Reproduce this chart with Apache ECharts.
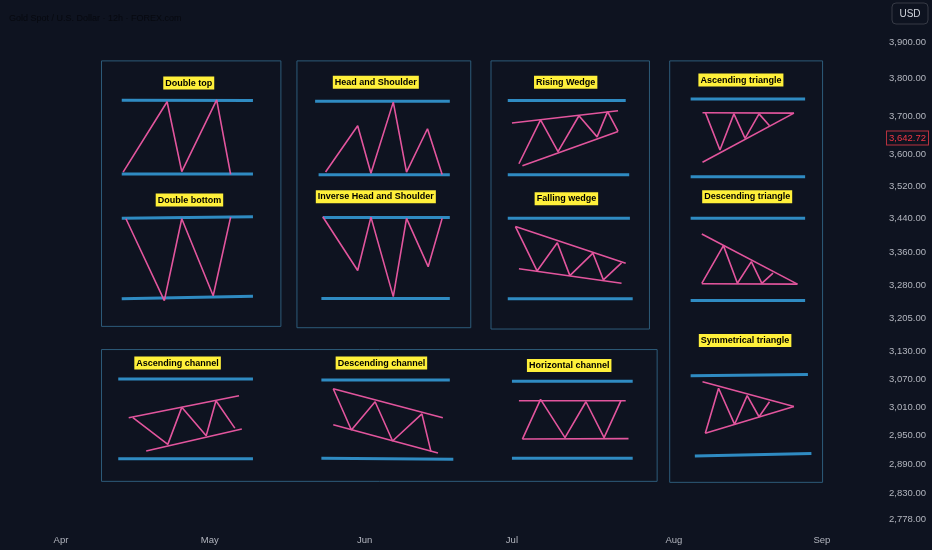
<!DOCTYPE html>
<html>
<head>
<meta charset="utf-8">
<title>Chart patterns</title>
<script src="https://cdn.jsdelivr.net/npm/echarts@6/dist/echarts.min.js"></script>
<style>
  html, body { margin: 0; padding: 0; background: #0e1320; }
  #chart { width: 932px; height: 550px; }
</style>
</head>
<body>
<div id="chart"></div>
<script>
// x = 12h bar position in trading days from 1 Apr, y = price (log scale)
const monthNames = ['Apr', 'May', 'Jun', 'Jul', 'Aug', 'Sep'];
const monthBars = [0, 21.3, 43.5, 64.6, 87.8, 109];
const priceTicks = [2778, 2830, 2890, 2950, 3010, 3070, 3130, 3205, 3280, 3360, 3440, 3520, 3600, 3700, 3800, 3900];
const lastPrice = 3642.72;

// rectangles: [fromBar, toBar, lowPrice, highPrice]
const frames = [
  [5.8, 31.5, 3187, 3848],
  [33.8, 58.7, 3184, 3848],
  [61.6, 84.3, 3181, 3848],
  [87.2, 109.1, 2853, 3848],
  [5.8, 85.4, 2855, 3135]
];

// blue horizontal levels: [bar1, price1, bar2, price2]
const levels = [
  [8.7, 3742, 27.5, 3741], [8.7, 3551, 27.5, 3551], [8.7, 3441, 27.5, 3445], [8.7, 3250, 27.5, 3256],
  [36.4, 3739, 55.7, 3739], [36.9, 3549, 55.7, 3549], [37.5, 3443, 55.7, 3443], [37.3, 3251, 55.7, 3251],
  [64.0, 3741, 80.9, 3741], [64.0, 3549, 81.4, 3549], [64.0, 3441, 81.5, 3441], [64.0, 3250, 81.9, 3250],
  [90.2, 3745, 106.6, 3745], [90.2, 3544, 106.6, 3544], [90.2, 3441, 106.6, 3441], [90.2, 3246, 106.6, 3246],
  [90.2, 3077, 107.0, 3080], [90.8, 2907, 107.5, 2912],
  [8.2, 3070, 27.5, 3070], [8.2, 2901, 27.5, 2901],
  [37.3, 3068, 55.7, 3068], [37.3, 2902, 56.2, 2900],
  [64.6, 3065, 81.9, 3065], [64.6, 2902, 81.9, 2902]
];

// pink pattern drawings, each one a list of polylines of [bar, price]
const doubleTop = [[[8.9, 3556], [15.2, 3738], [17.3, 3557], [22.3, 3743], [24.3, 3550]]];
const doubleBottom = [[[9.3, 3440], [14.8, 3246], [17.3, 3440], [21.8, 3257], [24.3, 3444]]];
const headShoulders = [[[37.9, 3556], [42.5, 3675], [44.4, 3553], [47.6, 3737], [49.5, 3556], [52.5, 3667], [54.6, 3550]]];
const inverseHeadShoulders = [[[37.5, 3445], [42.5, 3316], [44.4, 3444], [47.6, 3255], [49.5, 3441], [52.6, 3325], [54.6, 3441]]];
const risingWedge = [
  [[64.6, 3682], [79.8, 3714]],
  [[66.1, 3572], [79.8, 3660]],
  [[65.6, 3577], [68.7, 3690], [71.2, 3608], [74.2, 3701], [76.8, 3646], [78.3, 3712], [79.8, 3660]]
];
const fallingWedge = [
  [[65.1, 3421], [80.9, 3333]],
  [[65.6, 3320], [80.3, 3286]],
  [[65.1, 3421], [68.2, 3315], [71.1, 3382], [72.9, 3304], [76.2, 3357], [77.7, 3294], [80.3, 3334]]
];
const ascendingTriangle = [
  [[91.9, 3709], [105.0, 3708]],
  [[91.9, 3581], [105.0, 3708]],
  [[92.3, 3710], [94.4, 3612], [96.4, 3706], [98.0, 3642], [100.0, 3706], [101.5, 3675]]
];
const descendingTriangle = [
  [[91.8, 3403], [105.5, 3284]],
  [[91.8, 3285], [105.5, 3284]],
  [[91.8, 3286], [94.9, 3375], [96.9, 3286], [98.9, 3337], [100.4, 3286], [102.0, 3310]]
];
const symmetricalTriangle = [
  [[91.9, 3064], [105.0, 3011]],
  [[92.3, 2954], [105.0, 3011]],
  [[92.3, 2954], [94.2, 3050], [96.5, 2973], [98.3, 3034], [100.0, 2989], [101.5, 3021]]
];
const ascendingChannel = [
  [[9.7, 2987], [25.5, 3034]],
  [[12.2, 2917], [25.9, 2963]],
  [[10.3, 2987], [15.3, 2931], [17.3, 3009], [20.8, 2949], [22.2, 3023], [24.9, 2965]]
];
const descendingChannel = [
  [[39.0, 3049], [54.7, 2987]],
  [[39.0, 2972], [54.0, 2913]],
  [[39.0, 3049], [41.6, 2961], [45.0, 3021], [47.5, 2938], [51.7, 2995], [53.0, 2916]]
];
const horizontalChannel = [
  [[65.6, 3023], [80.9, 3023]],
  [[66.1, 2942], [81.3, 2943]],
  [[66.1, 2942], [68.7, 3026], [72.2, 2945], [75.2, 3021], [77.8, 2945], [80.2, 3023]]
];

const labelNames = ['Double top', 'Double bottom', 'Head and Shoulder', 'Inverse Head and Shoulder',
  'Rising Wedge', 'Falling wedge', 'Ascending triangle', 'Descending triangle', 'Symmetrical triangle',
  'Ascending channel', 'Descending channel', 'Horizontal channel'];
const labelBars = [18.3, 18.4, 45.1, 45.1, 72.3, 72.4, 97.4, 98.3, 98.0, 16.7, 45.9, 72.8];
const labelPrices = [3788, 3486, 3790, 3494, 3790, 3489, 3796, 3494, 3155, 3105, 3105, 3100];

const FONT = "'Liberation Sans Narrow', 'Liberation Sans', Arial, sans-serif";
const BG = '#0e1320';
const ln = Math.log;
const fmtPrice = (p) => p.toLocaleString('en-US', { minimumFractionDigits: 2, maximumFractionDigits: 2 });

const series = [];

const addLine = (pts, color, width, z) => {
  series.push({
    type: 'line',
    data: pts.map(p => [p[0], ln(p[1])]),
    symbol: 'none',
    silent: true,
    z: z,
    lineStyle: { color: color, width: width }
  });
};

frames.forEach(f => {
  addLine([[f[0], f[3]], [f[1], f[3]], [f[1], f[2]], [f[0], f[2]], [f[0], f[3]]], '#2d5b79', 1, 1);
});

levels.forEach(l => addLine([[l[0], l[1]], [l[2], l[3]]], '#2f8bc2', 3, 2));

const patterns = [doubleTop, doubleBottom, headShoulders, inverseHeadShoulders, risingWedge, fallingWedge,
  ascendingTriangle, descendingTriangle, symmetricalTriangle, ascendingChannel, descendingChannel, horizontalChannel];
patterns.forEach(pat => pat.forEach(pl => addLine(pl, '#e2559d', 1.6, 3)));

series.push({
  type: 'scatter',
  symbol: 'rect',
  symbolSize: 1,
  silent: true,
  z: 5,
  itemStyle: { color: 'rgba(0,0,0,0)', opacity: 1 },
  data: labelNames.map((n, i) => [labelBars[i], ln(labelPrices[i]), n]),
  label: {
    show: true,
    opacity: 1,
    position: 'inside',
    formatter: p => p.value[2],
    color: '#000',
    backgroundColor: '#fff03a',
    fontFamily: FONT,
    fontSize: 9,
    fontWeight: 'bold',
    lineHeight: 10,
    padding: [2, 2, 1, 2]
  }
});

const chart = echarts.init(document.getElementById('chart'));
chart.setOption({
  backgroundColor: BG,
  animation: false,
  title: {
    text: 'Gold Spot / U.S. Dollar · 12h · FOREX.com',
    left: 4,
    top: 9,
    textStyle: { color: '#07090f', fontSize: 9, fontWeight: 'normal', fontFamily: FONT }
  },
  grid: { left: 0, right: 48, top: 0, bottom: 22 },
  xAxis: {
    type: 'value',
    min: -8.74,
    max: 117.9,
    axisLine: { show: false },
    axisTick: { show: false },
    splitLine: { show: false },
    axisLabel: {
      customValues: monthBars,
      formatter: v => {
        let best = 0;
        monthBars.forEach((m, i) => { if (Math.abs(m - v) < Math.abs(monthBars[best] - v)) best = i; });
        return monthNames[best];
      },
      color: '#b2b5be',
      fontFamily: FONT,
      fontSize: 9.5,
      margin: 7
    }
  },
  yAxis: [
    {
      type: 'value',
      position: 'right',
      min: ln(2762),
      max: ln(4018),
      axisLine: { show: false },
      axisTick: { show: false },
      splitLine: { show: false },
      axisLabel: {
        customValues: priceTicks.map(ln),
        formatter: v => fmtPrice(Math.round(Math.exp(v))),
        color: '#b2b5be',
        fontFamily: FONT,
        fontSize: 9.5,
        align: 'right',
        margin: 42
      }
    },
    {
      // last price tag
      type: 'value',
      position: 'right',
      min: ln(2762),
      max: ln(4018),
      axisLine: { show: false },
      axisTick: { show: false },
      splitLine: { show: false },
      axisLabel: {
        customValues: [ln(lastPrice)],
        formatter: () => fmtPrice(lastPrice),
        color: '#f23645',
        backgroundColor: BG,
        borderColor: '#b8323f',
        borderWidth: 1,
        padding: [2, 2, 1, 2],
        fontFamily: FONT,
        fontSize: 9.5,
        align: 'right',
        margin: 44
      }
    }
  ],
  graphic: [
    {
      type: 'rect',
      shape: { x: 892, y: 3, width: 36, height: 21, r: 4 },
      style: { fill: BG, stroke: '#363a45', lineWidth: 1 }
    },
    {
      type: 'text',
      x: 910,
      y: 14,
      style: { text: 'USD', fill: '#d1d4dc', font: '10px ' + FONT, align: 'center', verticalAlign: 'middle' }
    }
  ],
  series: series
});
</script>
</body>
</html>
